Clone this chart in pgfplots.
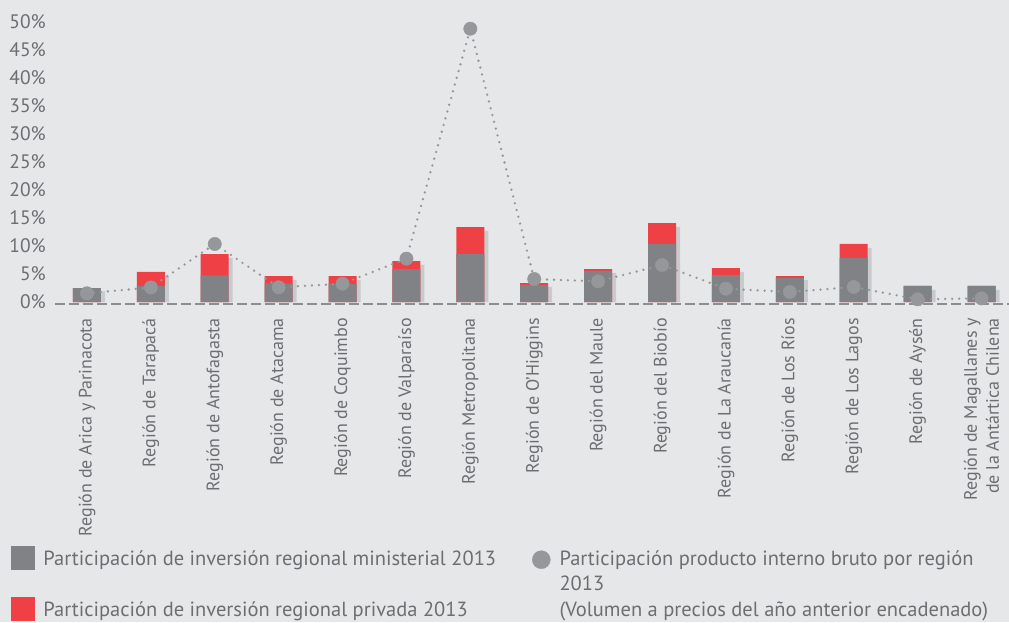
\documentclass[border=0pt]{standalone}
\usepackage{pgfplots}
\pgfplotsset{compat=1.18}
\usepackage{pgfplotstable}
\usepackage{fontspec}
\setmainfont{PT Sans}
\definecolor{bg}{HTML}{E6E7E8}
\definecolor{bargray}{HTML}{808285}
\definecolor{barred}{HTML}{EF4045}
\definecolor{shadowc}{HTML}{C9CACC}
\definecolor{dotgray}{HTML}{96979A}
\definecolor{txt}{HTML}{6D6E71}
\definecolor{basec}{HTML}{8C8D90}
\newcommand\legfont{\fontsize{20.5pt}{25.5pt}\selectfont}
\newcommand\tickfont{\fontsize{19.5pt}{23pt}\selectfont}
\newcommand\catfont{\fontsize{18pt}{22pt}\selectfont}

\pgfplotstableread{
x min tot sh pib
0 2.50 2.50 1.90 1.55
1 2.86 5.36 4.66 2.60
2 4.76 8.57 7.87 10.36
3 3.33 4.64 3.94 2.62
4 3.20 4.64 3.94 3.27
5 5.89 7.32 6.62 7.74
6 8.57 13.39 12.69 48.8
7 3.04 3.39 2.69 4.10
8 5.54 5.89 5.19 3.69
9 10.36 14.10 13.40 6.60
10 4.82 6.07 5.37 2.38
11 4.29 4.64 3.94 1.79
12 7.86 10.36 9.66 2.68
13 2.86 2.86 2.16 0.48
14 2.86 2.86 2.16 0.65
}\datatable

\begin{document}
\begin{tikzpicture}
\useasboundingbox (0,0) rectangle (1009pt,622pt);
\fill[bg] (0,0) rectangle (1009pt,622pt);
\begin{axis}[
  at={(55pt,320pt)}, anchor=south west,
  scale only axis, width=954pt, height=280pt,
  xmin=-0.5, xmax=14.43, ymin=0, ymax=50,
  enlargelimits=false, clip=false,
  axis line style={draw=none}, tick style={draw=none},
  major tick length=0pt,
  xtick={0,...,14},
  xticklabels={Región de Arica y Parinacota, Región de Tarapacá, Región de Antofagasta, Región de Atacama, Región de Coquimbo, Región de Valparaíso, Región Metropolitana, Región de O'Higgins, Región del Maule, Región del Biobío, Región de La Araucanía, Región de Los Ríos, Región de Los Lagos, Región de Aysén, {Región de Magallanes y\\de la Antártica Chilena}},
  xticklabel style={rotate=90, anchor=east, inner sep=0pt, align=right, font=\catfont, text=txt},
  xticklabel shift=16pt,
  ytick={0,5,...,50},
  yticklabels={0\%,5\%,10\%,15\%,20\%,25\%,30\%,35\%,40\%,45\%,50\%},
  yticklabel style={anchor=east, inner sep=0pt, font=\tickfont, text=txt},
  yticklabel shift=9pt,
  legend columns=2,
  legend cell align=left,
  legend style={at={(axis description cs:-0.0461,-0.8714)}, anchor=north west,
    draw=none, fill=none, inner sep=0pt, outer sep=0pt, font=\legfont, text=txt,
    row sep=28pt, nodes={inner sep=0pt},
    /tikz/every odd column/.append style={column sep=9pt},
    /tikz/every even column/.append style={column sep=36pt},
    /tikz/column 3/.append style={column sep=11pt}},
]
\addlegendimage{legend image code/.code={\fill[bargray] (0pt,-3pt) rectangle (23pt,20pt);}}
\addlegendentry{\smash{Participación de inversión regional ministerial 2013}}
\addlegendimage{legend image code/.code={\fill[dotgray] (9pt,6.5pt) circle (9pt);}}
\addlegendentry{\smash{\begin{tabular}[t]{@{}l@{}}Participación producto interno bruto por región\\2013\\(Volumen a precios del año anterior encadenado)\end{tabular}}}
\addlegendimage{legend image code/.code={\fill[barred] (0pt,-3pt) rectangle (23pt,20pt);}}
\addlegendentry{\smash{Participación de inversión regional privada 2013}}

\addplot[ybar, bar width=28pt, bar shift=4pt, fill=shadowc, draw=none, forget plot] table[x=x,y=sh]{\datatable};
\addplot[ybar, bar width=28pt, bar shift=0pt, fill=barred, draw=none, forget plot] table[x=x,y=tot]{\datatable};
\addplot[ybar, bar width=28pt, bar shift=0pt, fill=bargray, draw=none, forget plot] table[x=x,y=min]{\datatable};
\draw[basec, line width=2.6pt, dash pattern=on 10pt off 4pt] (axis cs:-0.5,-0.36) -- (axis cs:14.43,-0.36);
\addplot[dotgray, line width=2.6pt, line cap=round, dash pattern=on 0pt off 7pt, forget plot] table[x=x,y=pib]{\datatable};
\addplot[draw=dotgray, fill=dotgray, only marks, mark=*, mark size=6.7pt, forget plot] table[x=x,y=pib]{\datatable};
\end{axis}
\end{tikzpicture}
\end{document}
